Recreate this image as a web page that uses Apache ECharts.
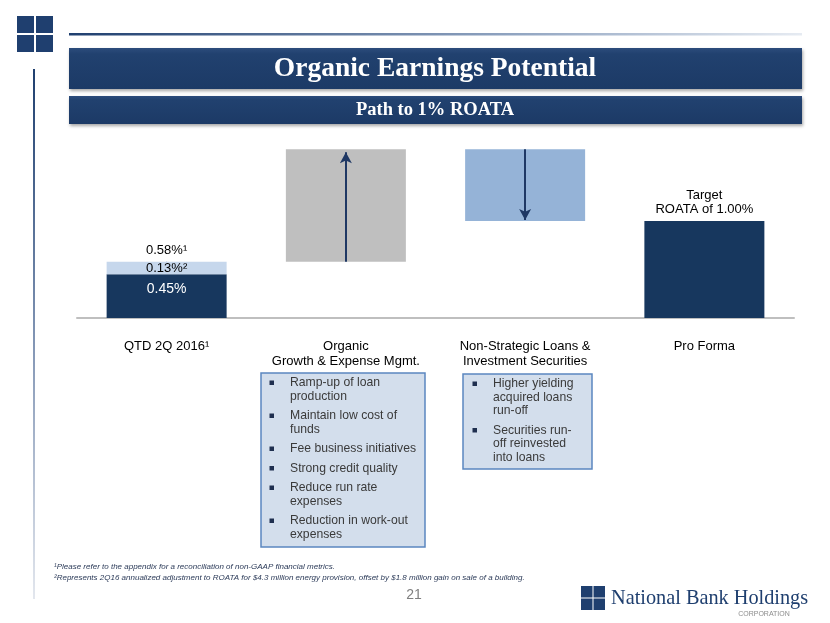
<!DOCTYPE html>
<html>
<head>
<meta charset="utf-8">
<script src="https://cdn.jsdelivr.net/npm/echarts@6/dist/echarts.min.js"></script>
<style>
  html, body { margin: 0; padding: 0; background: #fff; }
  #chart { width: 830px; height: 623px; }
</style>
</head>
<body>
<div id="chart"></div>
<script>
// categories on the x axis
const categories = ['QTD 2Q 2016¹', 'Organic\nGrowth & Expense Mgmt.', 'Non-Strategic Loans &\nInvestment Securities', 'Pro Forma']

// waterfall pieces (ROATA, %)
const hiddenBase = [0, 0.58, 1.00, 0]
const coreRoata = [0.45, '-', '-', '-']
const adjustment = [0.13, '-', '-', '-']
const organicGrowth = ['-', 1.16, '-', '-']
const nonStrategic = ['-', '-', 0.74, '-']
const proForma = ['-', '-', '-', 1.00]
const reportedTotal = 0.58

// labels
const coreLabels = ['0.45%']
const adjustmentLabels = ['0.13%²']
const totalLabel = '0.58%¹'
const proFormaLabels = ['', '', '', 'Target\nROATA of 1.00%']

// bullet boxes below the chart
const organicBullets = ['Ramp-up of loan\nproduction', 'Maintain low cost of\nfunds', 'Fee business initiatives', 'Strong credit quality', 'Reduce run rate\nexpenses', 'Reduction in work-out\nexpenses']
const nonStrategicBullets = ['Higher yielding\nacquired loans\nrun-off', 'Securities run-\noff reinvested\ninto loans']

const footnotes = [
  '¹Please refer to the appendix for a reconciliation of non-GAAP financial metrics.',
  '²Represents 2Q16 annualized adjustment to ROATA for $4.3 million energy provision, offset by $1.8 million gain on sale of a building.'
]

const NAVY = '#1F3F6F'
const SANS = 'Liberation Sans, Arial, sans-serif'
const SERIF = 'Liberation Serif, Times New Roman, serif'

function bulletBox(x, y, w, h, items, textX, bulletX, firstY) {
  let els = [{
    type: 'rect',
    shape: { x: x, y: y, width: w, height: h },
    style: { fill: '#D3DEEC', stroke: '#5B87C0', lineWidth: 1.5 },
  }]
  let cy = firstY
  items.forEach((t) => {
    let lines = t.split('\n').length
    els.push({
      type: 'rect',
      shape: { x: bulletX - 2.5, y: cy - 2.5, width: 4.5, height: 4.5 },
      style: { fill: '#1F2F4F' },
    })
    els.push({
      type: 'text',
      x: textX,
      y: cy - 7,
      style: {
        text: t,
        fontSize: 12.2,
        fontFamily: SANS,
        fill: '#3A3A3A',
        lineHeight: 13.5,
        textAlign: 'left',
        textVerticalAlign: 'top',
      },
    })
    cy += lines * 13.5 + 6
  })
  return els
}

let graphics = [
  // top-left logo squares
  { type: 'rect', shape: { x: 17, y: 16, width: 17, height: 17 }, style: { fill: NAVY } },
  { type: 'rect', shape: { x: 36, y: 16, width: 17, height: 17 }, style: { fill: NAVY } },
  { type: 'rect', shape: { x: 17, y: 35, width: 17, height: 17 }, style: { fill: NAVY } },
  { type: 'rect', shape: { x: 36, y: 35, width: 17, height: 17 }, style: { fill: NAVY } },
  // header rule
  {
    type: 'rect',
    shape: { x: 69, y: 33, width: 733, height: 2.5 },
    style: {
      fill: { type: 'linear', x: 0, y: 0, x2: 1, y2: 0, colorStops: [{ offset: 0, color: NAVY }, { offset: 0.6, color: '#8FA3C0' }, { offset: 1, color: '#E6EBF2' }] },
    },
  },
  // left vertical rule
  {
    type: 'rect',
    shape: { x: 33, y: 69, width: 2, height: 530 },
    style: {
      fill: { type: 'linear', x: 0, y: 0, x2: 0, y2: 1, colorStops: [{ offset: 0, color: NAVY }, { offset: 0.5, color: '#7F93B3' }, { offset: 1, color: '#E3E7EE' }] },
    },
  },
  // title bars
  {
    type: 'rect',
    shape: { x: 69, y: 48, width: 733, height: 41 },
    style: {
      fill: { type: 'linear', x: 0, y: 0, x2: 0, y2: 1, colorStops: [{ offset: 0, color: '#2C4C7C' }, { offset: 0.15, color: '#21416F' }, { offset: 1, color: '#1C3A66' }] },
      shadowBlur: 3, shadowOffsetX: 1, shadowOffsetY: 2, shadowColor: 'rgba(0,0,0,0.35)',
    },
  },
  {
    type: 'text', x: 435, y: 69,
    style: { text: 'Organic Earnings Potential', fontSize: 27.5, fontWeight: 'bold', fontFamily: SERIF, fill: '#fff', textAlign: 'center', textVerticalAlign: 'middle' },
  },
  {
    type: 'rect',
    shape: { x: 69, y: 96, width: 733, height: 28 },
    style: {
      fill: { type: 'linear', x: 0, y: 0, x2: 0, y2: 1, colorStops: [{ offset: 0, color: '#2C4C7C' }, { offset: 0.15, color: '#21416F' }, { offset: 1, color: '#1C3A66' }] },
      shadowBlur: 3, shadowOffsetX: 1, shadowOffsetY: 2, shadowColor: 'rgba(0,0,0,0.35)',
    },
  },
  {
    type: 'text', x: 435, y: 110,
    style: { text: 'Path to 1% ROATA', fontSize: 18.5, fontWeight: 'bold', fontFamily: SERIF, fill: '#fff', textAlign: 'center', textVerticalAlign: 'middle' },
  },
  // footnotes
  {
    type: 'text', x: 54, y: 567,
    style: { text: footnotes[0], fontSize: 8, fontStyle: 'italic', fontFamily: SANS, fill: '#2B3A58', textAlign: 'left', textVerticalAlign: 'middle' },
  },
  {
    type: 'text', x: 54, y: 578,
    style: { text: footnotes[1], fontSize: 8, fontStyle: 'italic', fontFamily: SANS, fill: '#2B3A58', textAlign: 'left', textVerticalAlign: 'middle' },
  },
  // page number
  {
    type: 'text', x: 414, y: 595,
    style: { text: '21', fontSize: 14, fontFamily: SANS, fill: '#7F7F7F', textAlign: 'center', textVerticalAlign: 'middle' },
  },
  // bottom-right logo
  { type: 'rect', shape: { x: 581, y: 586, width: 11.5, height: 11.5 }, style: { fill: NAVY } },
  { type: 'rect', shape: { x: 593.5, y: 586, width: 11.5, height: 11.5 }, style: { fill: NAVY } },
  { type: 'rect', shape: { x: 581, y: 598.5, width: 11.5, height: 11.5 }, style: { fill: NAVY } },
  { type: 'rect', shape: { x: 593.5, y: 598.5, width: 11.5, height: 11.5 }, style: { fill: NAVY } },
  {
    type: 'text', x: 611, y: 599,
    style: { text: 'National Bank Holdings', fontSize: 20.3, fontFamily: SERIF, fill: NAVY, textAlign: 'left', textVerticalAlign: 'middle' },
  },
  {
    type: 'text', x: 764, y: 614,
    style: { text: 'CORPORATION', fontSize: 7, fontFamily: SANS, fill: '#8C8C8C', textAlign: 'center', textVerticalAlign: 'middle' },
  },
]
graphics = graphics.concat(bulletBox(261, 373, 164, 174, organicBullets, 290, 272, 383))
graphics = graphics.concat(bulletBox(463, 374, 129, 95, nonStrategicBullets, 493, 475, 384))

let myChart = echarts.init(document.getElementById('chart'))
myChart.setOption({
  animation: false,
  grid: {
    left: 77,
    right: 36,
    top: 124,
    bottom: 305,
    containLabel: false,
  },
  xAxis: {
    type: 'category',
    data: categories,
    axisTick: { show: false },
    axisLine: { lineStyle: { color: '#BFBFBF', width: 2 } },
    axisLabel: {
      color: '#000',
      fontSize: 13,
      fontFamily: SANS,
      lineHeight: 15,
      margin: 21,
      interval: 0,
    },
  },
  yAxis: {
    type: 'value',
    min: 0,
    max: 2,
    show: false,
    splitLine: { show: false },
  },
  series: [
    {
      name: 'base',
      type: 'bar',
      stack: 'roata',
      barWidth: 120,
      silent: true,
      itemStyle: { color: 'transparent' },
      data: hiddenBase,
    },
    {
      name: 'QTD core',
      type: 'bar',
      stack: 'roata',
      itemStyle: { color: '#17375E' },
      label: {
        show: true,
        position: 'insideTop',
        distance: 8,
        color: '#fff',
        fontSize: 14,
        fontFamily: SANS,
        formatter: (p) => coreLabels[p.dataIndex] || '',
      },
      data: coreRoata,
    },
    {
      name: 'adjustment',
      type: 'bar',
      stack: 'roata',
      itemStyle: { color: '#C6D7EC' },
      label: {
        show: true,
        position: 'inside',
        color: '#000',
        fontSize: 13,
        fontFamily: SANS,
        formatter: (p) => adjustmentLabels[p.dataIndex] || '',
      },
      markPoint: {
        silent: true,
        symbol: 'rect',
        symbolSize: [1, 1],
        itemStyle: { color: '#C6D7EC' },
        label: {
          show: true,
          position: 'top',
          distance: 4,
          color: '#000',
          fontSize: 13,
          fontFamily: SANS,
          formatter: () => totalLabel,
        },
        data: [{ coord: [categories[0], reportedTotal] }],
      },
      data: adjustment,
    },
    {
      name: 'organic',
      type: 'bar',
      stack: 'roata',
      itemStyle: { color: '#BFBFBF' },
      markLine: {
        silent: true,
        symbol: ['none', 'arrow'],
        symbolSize: [9, 11],
        label: { show: false },
        lineStyle: { color: '#1F3864', width: 2, type: 'solid' },
        data: [[{ coord: [categories[1], hiddenBase[1]] }, { coord: [categories[1], hiddenBase[1] + organicGrowth[1] - 0.03] }]],
      },
      data: organicGrowth,
    },
    {
      name: 'non-strategic',
      type: 'bar',
      stack: 'roata',
      itemStyle: { color: '#95B3D7' },
      markLine: {
        silent: true,
        symbol: ['none', 'arrow'],
        symbolSize: [9, 11],
        label: { show: false },
        lineStyle: { color: '#1F3864', width: 2, type: 'solid' },
        data: [[{ coord: [categories[2], hiddenBase[2] + nonStrategic[2]] }, { coord: [categories[2], hiddenBase[2] + 0.01] }]],
      },
      data: nonStrategic,
    },
    {
      name: 'pro forma',
      type: 'bar',
      stack: 'roata',
      itemStyle: { color: '#17375E' },
      label: {
        show: true,
        position: 'top',
        distance: 5,
        color: '#000',
        fontSize: 13,
        lineHeight: 14,
        fontFamily: SANS,
        formatter: (p) => proFormaLabels[p.dataIndex] || '',
      },
      data: proForma,
    },
  ],
  graphic: graphics,
})
</script>
</body>
</html>
